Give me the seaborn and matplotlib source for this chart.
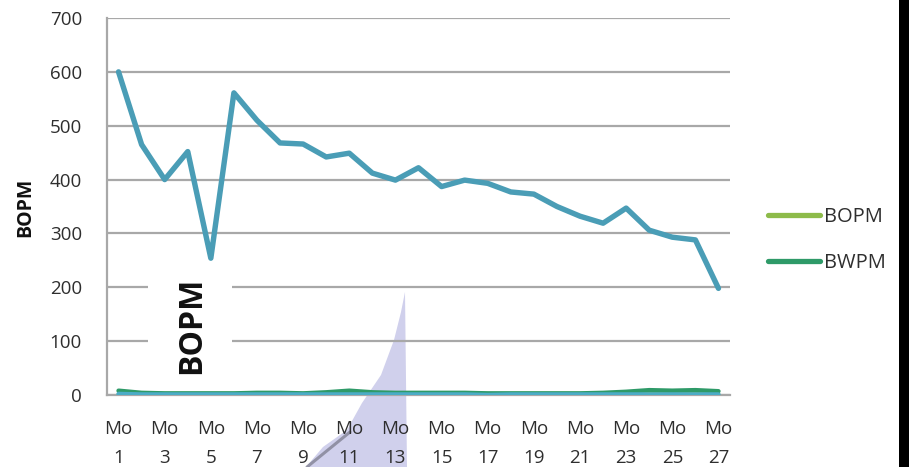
import matplotlib
matplotlib.use("Agg")
import matplotlib.pyplot as plt
from matplotlib.patches import Polygon, Rectangle
from matplotlib.lines import Line2D
import seaborn as sns
import pandas as pd

# Monthly categories
months = ["Mo 1", "Mo 2", "Mo 3", "Mo 4", "Mo 5", "Mo 6", "Mo 7", "Mo 8", "Mo 9",
          "Mo 10", "Mo 11", "Mo 12", "Mo 13", "Mo 14", "Mo 15", "Mo 16", "Mo 17",
          "Mo 18", "Mo 19", "Mo 20", "Mo 21", "Mo 22", "Mo 23", "Mo 24", "Mo 25",
          "Mo 26", "Mo 27"]

# Oil rate per month (main trace)
oil_rate = [600, 465, 400, 452, 254, 561, 510, 468, 466, 442, 449, 412, 399, 422,
            387, 399, 393, 377, 373, 350, 332, 319, 347, 306, 293, 288, 198]

# Legend series
bopm = [1, 1, 1, 1, 1, 1, 1, 1, 1, 1, 1, 1, 1, 1,
        1, 1, 1, 1, 1, 1, 1, 1, 1, 1, 1, 1, 1]
bwpm = [8, 4, 3, 3, 3, 3, 4, 4, 3, 5, 8, 5, 4, 4,
        4, 4, 3, 3, 3, 3, 3, 4, 6, 9, 8, 9, 7]
# Near-zero companion trace
base = [2, 1, 1, 1, 1, 1, 1, 1, 1, 1, 1, 1, 1, 1,
        1, 1, 0, 1, 1, 1, 1, 1, 1, 1, 1, 1, 1]

yticks = [0, 100, 200, 300, 400, 500, 600, 700]

df = pd.DataFrame({"pos": range(len(months)), "month": months, "oil": oil_rate,
                   "BOPM": bopm, "BWPM": bwpm, "base": base})

sns.set_theme(style="white")
plt.rcParams["font.family"] = ["Open Sans", "DejaVu Sans"]

W, H = 909, 467
fig = plt.figure(figsize=(W / 100, H / 100), dpi=100, facecolor="white")
ax = fig.add_axes([107 / W, 1 - 395 / H, (730 - 107) / W, (395 - 18) / H])
ax.patch.set_visible(False)

teal = "#4A9DB6"
aqua = "#4BACC6"
light_green = "#8DBB4A"
dark_green = "#2E9A68"
text_col = "#2E2E2E"

sns.lineplot(data=df, x="pos", y="BOPM", ax=ax, color=light_green, lw=3.2, zorder=3)
sns.lineplot(data=df, x="pos", y="BWPM", ax=ax, color=dark_green, lw=3.2, zorder=4)
sns.lineplot(data=df, x="pos", y="base", ax=ax, color=aqua, lw=3.2, zorder=5)
sns.lineplot(data=df, x="pos", y="oil", ax=ax, color=teal, lw=3.9, zorder=6)

ax.set_xlim(-0.5, len(months) - 0.5)
ax.set_ylim(0, 700)
ax.set_yticks(yticks)
ax.set_yticklabels([str(v) for v in yticks], fontsize=13.5, color=text_col)
tick_pos = list(range(0, len(months), 2))
ax.set_xticks(tick_pos)
ax.set_xticklabels([months[i].replace(" ", "\n") for i in tick_pos],
                   fontsize=13.5, color=text_col, linespacing=1.8)
ax.tick_params(axis="x", length=0, pad=18)
ax.tick_params(axis="y", length=0, pad=18)
ax.grid(axis="y", color="#A8A8A8", lw=1.6, zorder=1)
ax.set_axisbelow(True)
for s in ["top", "right"]:
    ax.spines[s].set_visible(False)
ax.spines["left"].set_color("#A8A8A8")
ax.spines["left"].set_linewidth(1.6)
ax.spines["bottom"].set_color("#A8A8A8")
ax.spines["bottom"].set_linewidth(1.6)
ax.set_xlabel("")
ax.set_ylabel("")
fig.text(25 / W, 1 - 207 / H, "BOPM", rotation=90, ha="center", va="center",
         fontsize=14, fontweight="bold", color="#111111")

# Rotated in-plot caption on a white panel that masks the gridlines
ax.add_patch(Rectangle((1.28, 12), 3.64, 228, facecolor="white", edgecolor="none",
                       zorder=2))
ax.text(3.15, 130, "BOPM", rotation=90, ha="center", va="center", fontsize=23,
        fontweight="bold", color="#111111", zorder=7)

# Legend
handles = [Line2D([0], [0], color=light_green, lw=3.8, solid_capstyle="round"),
           Line2D([0], [0], color=dark_green, lw=3.8, solid_capstyle="round")]
fig.legend(handles, ["BOPM", "BWPM"], loc="center left",
           bbox_to_anchor=(750 / W, 1 - 240 / H), frameon=False, fontsize=14.5,
           handlelength=2.6, handletextpad=0.15, labelspacing=1.3,
           labelcolor=text_col)

# Lavender pointer overlay, sitting beneath the chart content
shade = Polygon([(405 / W, 1 - 292 / H), (407 / W, 0), (306 / W, 0),
                 (323 / W, 1 - 447 / H), (347 / W, 1 - 430 / H),
                 (362 / W, 1 - 403 / H), (381 / W, 1 - 375 / H),
                 (394 / W, 1 - 340 / H), (401 / W, 1 - 312 / H)],
                closed=True, transform=fig.transFigure, facecolor="#D0D0EC",
                edgecolor="none", zorder=-2)
fig.patches.append(shade)
fig.lines.append(Line2D([307 / W, 350 / W], [1 - 467 / H, 1 - 432 / H],
                        transform=fig.transFigure, color="#777788", lw=2.2,
                        alpha=0.7, zorder=-1))

# Dark strip along the right edge
fig.patches.append(Rectangle((899 / W, 0), 10 / W, 1, transform=fig.transFigure,
                             facecolor="black", edgecolor="none", zorder=30))

fig.savefig("out.png", dpi=100, facecolor="white")
